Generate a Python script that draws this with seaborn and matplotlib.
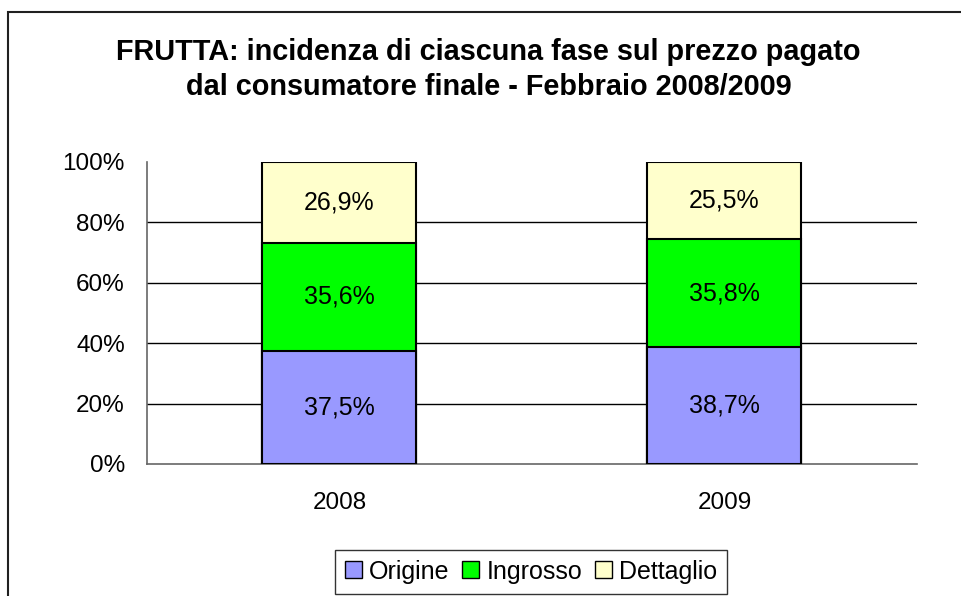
import numpy as np
import matplotlib
matplotlib.use("Agg")
import matplotlib.pyplot as plt
import seaborn as sns
import pandas as pd
from matplotlib.patches import Patch, Rectangle

# ── Data ──────────────────────────────────────────────────────────────────────
years = ["2008", "2009"]
origine = [37.5, 38.7]
ingrosso = [35.6, 35.8]
dettaglio = [26.9, 25.5]

phases = ["Origine", "Ingrosso", "Dettaglio"]
colors = {"Origine": "#9999FF", "Ingrosso": "#00FF00", "Dettaglio": "#FFFFCC"}

title = ("FRUTTA: incidenza di ciascuna fase sul prezzo pagato\n"
         "dal consumatore finale - Febbraio 2008/2009")

# ── Figure ────────────────────────────────────────────────────────────────────
sns.set_style("white")
plt.rcParams["font.family"] = ["Liberation Sans", "DejaVu Sans"]
plt.rcParams.update({"text.color": "black", "xtick.color": "black",
                     "ytick.color": "black", "axes.labelcolor": "black"})

fig = plt.figure(figsize=(9.62, 5.96), dpi=100)
ax = fig.add_axes([0.1528, 0.2215, 0.8004, 0.5067])

df = pd.DataFrame({"year": years, "Origine": origine,
                   "Ingrosso": ingrosso, "Dettaglio": dettaglio})
df["c1"] = df["Origine"]
df["c2"] = df["c1"] + df["Ingrosso"]
df["c3"] = df["c2"] + df["Dettaglio"]

# draw back-to-front so each layer sits on top of the previous one
for col, phase in [("c3", "Dettaglio"), ("c2", "Ingrosso"), ("c1", "Origine")]:
    sns.barplot(data=df, x="year", y=col, color=colors[phase], width=0.4,
                edgecolor="black", linewidth=1.5, saturation=1, ax=ax, zorder=3)

# segment labels
for i, row in df.iterrows():
    bottoms = [0, row["c1"], row["c2"]]
    for b, phase in zip(bottoms, phases):
        v = row[phase]
        ax.text(i, b + v / 2, f"{v:.1f}%".replace(".", ","),
                ha="center", va="center", fontsize=18, zorder=4)

# axes styling
ax.set_xlim(-0.5, 1.5)
ax.set_ylim(0, 100)
ax.set_yticks([0, 20, 40, 60, 80, 100])
ax.set_yticklabels([f"{t}%" for t in [0, 20, 40, 60, 80, 100]], fontsize=17.5)
ax.set_xticks([0, 1])
ax.set_xticklabels(years, fontsize=17.5)
ax.set_xticks([-0.5, 0.5, 1.5], minor=True)
ax.tick_params(axis="x", which="major", length=0, pad=20)
ax.tick_params(axis="x", which="minor", length=7, direction="out", color="#666666")
ax.tick_params(axis="y", length=7, direction="out", color="#666666", pad=9)
ax.set_xlabel("")
ax.set_ylabel("")

for y in [20, 40, 60, 80]:
    ax.axhline(y, color="black", linewidth=1, zorder=1)

for s in ["top", "right"]:
    ax.spines[s].set_visible(False)
for s in ["left", "bottom"]:
    ax.spines[s].set_color("#666666")
    ax.spines[s].set_linewidth(1.2)

fig.suptitle(title, x=0.508, y=0.936, fontsize=20.8, fontweight="bold",
             linespacing=1.33)

handles = [Patch(facecolor=colors[p], edgecolor="black", label=p) for p in phases]
leg = fig.legend(handles=handles, loc="center", bbox_to_anchor=(531 / 962, 0.041),
                 ncol=3, fontsize=18, frameon=True, fancybox=False,
                 handlelength=0.68, handleheight=0.68, handletextpad=0.28,
                 columnspacing=0.5, borderpad=0.4, borderaxespad=0)
leg.get_frame().set_edgecolor("black")
leg.get_frame().set_linewidth(1)

# outer chart border (cropped on right and bottom)
fig.patches.append(Rectangle((8 / 962, -0.1), 1.2, 1 - 12 / 596 + 0.1,
                             transform=fig.transFigure, fill=False,
                             edgecolor="#202020", linewidth=1.5))

fig.savefig("out.png", dpi=100)
